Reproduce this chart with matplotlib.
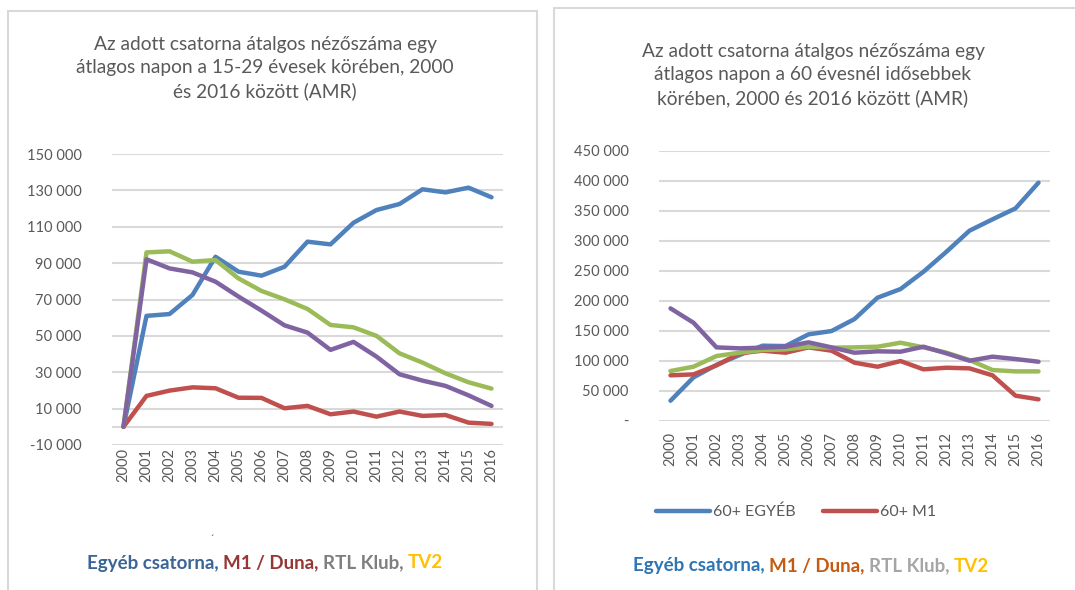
import matplotlib
matplotlib.use("Agg")
import matplotlib.pyplot as plt
from matplotlib.patches import Rectangle

plt.rcParams['font.family'] = ['Lato', 'DejaVu Sans']

years = [str(y) for y in range(2000, 2017)]

# 15-29 year olds
young_egyeb = [0, 61000, 62000, 72500, 93500, 85300, 83100, 88000, 101800, 100300,
               112200, 119200, 122500, 130600, 128900, 131500, 126200]
young_m1 = [0, 17000, 19900, 21700, 21200, 16000, 15900, 10200, 11500, 6900,
            8400, 5600, 8400, 6000, 6500, 2300, 1600]
young_green = [0, 95900, 96500, 90800, 91700, 81600, 74700, 70100, 64800, 56000,
               54700, 50000, 40400, 35300, 29400, 24500, 21000]
young_purple = [0, 92100, 87100, 84900, 79800, 71600, 63900, 55800, 51800, 42300,
                46700, 38600, 28900, 25400, 22500, 17300, 11500]

# 60+
old_egyeb = [33300, 72200, 93000, 109400, 125000, 124400, 143900, 149400, 169400, 205000,
             219400, 248300, 281700, 316700, 335600, 353900, 396700]
old_m1 = [75600, 77200, 92200, 112200, 116700, 113300, 122200, 116700, 96700, 90000,
          99400, 85600, 88300, 87200, 75600, 41700, 35600]
old_green = [82800, 90000, 107800, 113300, 117800, 118900, 123300, 121700, 122200, 123300,
             130000, 122200, 113300, 101100, 84400, 82200, 82200]
old_purple = [187200, 163300, 122200, 120600, 121700, 123300, 130600, 122200, 113300, 115600,
              115000, 123300, 112200, 100000, 106700, 102800, 98300]

left_ticks = list(range(-10000, 150001, 20000))
right_ticks = list(range(0, 450001, 50000))

W, H = 1075, 590
BLUE, RED, GREEN, PURPLE = "#4F81BD", "#C0504D", "#9BBB59", "#8064A2"
GRID = "#D9D9D9"
TXT = "#595959"


def fmt(v, dash_zero=False):
    if v == 0 and dash_zero:
        return "-"
    return f"{v:,}".replace(",", " ")


def px_axes(fig, x0, x1, ytop, ybot):
    return fig.add_axes([x0 / W, 1 - ybot / H, (x1 - x0) / W, (ybot - ytop) / H])


fig = plt.figure(figsize=(W / 100, H / 100), dpi=100)

# panel frames
fig.patches.append(Rectangle((8 / W, -0.02), 529 / W, 1.02 - 11 / H, transform=fig.transFigure,
                             fill=False, edgecolor=GRID, lw=1.5))
fig.patches.append(Rectangle((554 / W, -0.02), 540 / W, 1.02 - 8 / H, transform=fig.transFigure,
                             fill=False, edgecolor=GRID, lw=1.5))


def style(ax, ticks, ylim, dash_zero, xpad):
    ax.set_xlim(-0.5, 16.5)
    ax.set_ylim(*ylim)
    ax.set_yticks(ticks)
    ax.set_yticklabels([fmt(t, dash_zero) for t in ticks])
    ax.set_xticks(range(len(years)))
    ax.set_xticklabels(years, rotation=90)
    ax.grid(axis="y", color=GRID, lw=1.5)
    ax.set_axisbelow(True)
    for s in ax.spines.values():
        s.set_visible(False)
    ax.tick_params(axis="y", length=0, pad=22, labelsize=10.5, labelcolor=TXT)
    ax.tick_params(axis="x", length=0, pad=xpad, labelsize=10.5, labelcolor=TXT)


# left chart
ax1 = px_axes(fig, 112, 503, 154, 445)
x = range(len(years))
ax1.axhline(0, color=GRID, lw=1.5, zorder=1)
for vals, c in [(young_egyeb, BLUE), (young_m1, RED), (young_green, GREEN), (young_purple, PURPLE)]:
    ax1.plot(x, vals, color=c, lw=3.2, solid_capstyle="round", solid_joinstyle="round")
style(ax1, left_ticks, (-10000, 150000), False, 2)

fig.text(265 / W, 1 - 68 / H,
         "Az adott csatorna átalgos nézőszáma egy\nátlagos napon a 15-29 évesek körében, 2000\nés 2016 között (AMR)",
         ha="center", va="center", fontsize=13.8, color=TXT, linespacing=1.45)
fig.text(212 / W, 1 - 540 / H, "´", ha="center", va="center", fontsize=8, color=TXT)

# right chart
ax2 = px_axes(fig, 659, 1050, 150.7, 420.7)
lines = []
for vals, c in [(old_egyeb, BLUE), (old_m1, RED), (old_green, GREEN), (old_purple, PURPLE)]:
    ln, = ax2.plot(x, vals, color=c, lw=3.2, solid_capstyle="round", solid_joinstyle="round")
    lines.append(ln)
style(ax2, right_ticks, (0, 450000), True, 8)

fig.text(813 / W, 1 - 75 / H,
         "Az adott csatorna átalgos nézőszáma egy\nátlagos napon a 60 évesnél idősebbek\nkörében, 2000 és 2016 között (AMR)",
         ha="center", va="center", fontsize=13.8, color=TXT, linespacing=1.45)

fig.legend(lines[:2], ["60+ EGYÉB", "60+ M1"], loc="center", bbox_to_anchor=(796 / W, 1 - 512 / H),
           ncol=2, frameon=False, fontsize=11.5, labelcolor=TXT, handlelength=3.4,
           handletextpad=0.2, columnspacing=1.7)


# colored captions
def caption(cx, cy, parts):
    renderer = fig.canvas.get_renderer()
    texts = [fig.text(0, 0, s, fontsize=13.5, fontweight="bold", color=c) for s, c in parts]
    widths = [t.get_window_extent(renderer).width for t in texts]
    xx = cx - sum(widths) / 2
    for t, w in zip(texts, widths):
        t.set_position((xx / W, 1 - cy / H))
        t.set_va("center")
        xx += w


caption(265, 563, [("Egyéb csatorna, ", "#3B6596"), ("M1 / Duna, ", "#953735"),
                   ("RTL Klub, ", "#7F7F7F"), ("TV2", "#FFC000")])
caption(811, 566, [("Egyéb csatorna, ", "#2E75B6"), ("M1 / Duna, ", "#C55A11"),
                   ("RTL Klub, ", "#A5A5A5"), ("TV2", "#FFC000")])

fig.savefig("out.png", dpi=100)
